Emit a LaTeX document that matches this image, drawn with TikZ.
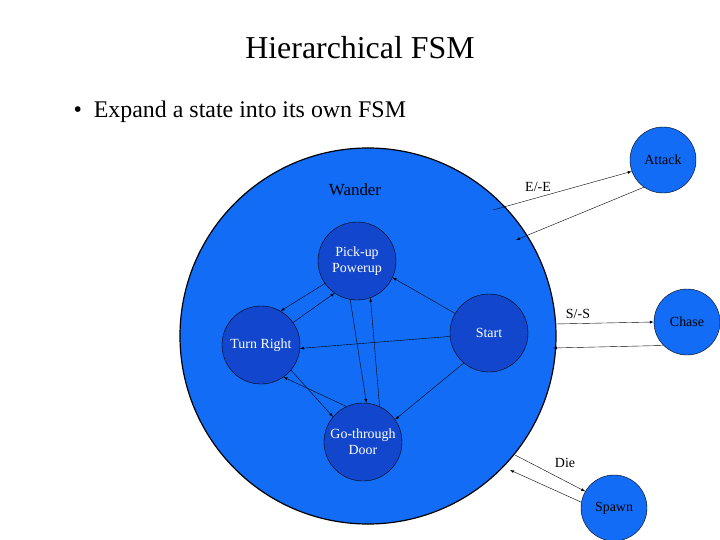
\documentclass[tikz,border=0pt]{standalone}
\usepackage{fontspec}
\setmainfont{Liberation Serif}
\usetikzlibrary{arrows}
\definecolor{wanderblue}{RGB}{18,108,245}
\definecolor{innerblue}{RGB}{18,70,205}
\tikzset{
  outer/.style={circle, draw=black, fill=wanderblue, minimum size=66bp, inner sep=0pt, font=\fontsize{14}{14}\selectfont, align=center},
  inner/.style={circle, draw=black, fill=innerblue, minimum size=78bp, inner sep=0pt, text=white, font=\fontsize{14}{16}\selectfont, align=center},
  trans/.style={-latex, thin}
}
\begin{document}
\begin{tikzpicture}[x=1bp,y=-1bp]
\useasboundingbox (0,0) rectangle (720,540);
\node[font=\fontsize{32}{32}\selectfont] (title) at (360,48) {Hierarchical FSM};
\node[font=\fontsize{24}{24}\selectfont, anchor=west] (bullet) at (70,112) {\textbullet\ \ Expand a state into its own FSM};

\node[circle, draw=black, line width=1.2pt, fill=wanderblue, minimum size=376bp, inner sep=0pt] (wander) at (368,336) {};
\node[font=\fontsize{17}{17}\selectfont] (wlabel) at (355,190) {Wander};

\node[outer] (attack) at (663,160) {Attack};
\node[outer] (chase) at (687,322) {Chase};
\node[outer] (spawn) at (614,508) {Spawn};

\node[inner] (pickup) at (357,261) {Pick-up\\Powerup};
\node[inner] (turn) at (261,345) {Turn Right};
\node[inner] (start) at (489,333) {Start};
\node[inner] (door) at (363,442) {Go-through\\Door};

% inner transitions
\draw[trans] (start.150) -- (pickup.-25);
\draw[trans] (start.185) -- (turn.-5);
\draw[trans] (start.-130) -- (door.35);
\draw[trans] (pickup.-145) -- (turn.60);
\draw[trans] (turn.35) -- (pickup.-125);
\draw[trans] (pickup.-100) -- (door.85);
\draw[trans] (door.65) -- (pickup.-70);
\draw[trans] (turn.-40) -- (door.140);
\draw[trans] (door.115) -- (turn.-55);

% outer transitions
\coordinate (eout) at (493,210);
\coordinate (ein) at (516,240);
\coordinate (sout) at (555,324);
\coordinate (sin) at (553,348);
\coordinate (dout) at (515,455);
\coordinate (din) at (510,470);
\draw[trans] (eout) -- (attack.-160);
\draw[trans] (attack.-125) -- (ein);
\draw[trans] (sout) -- (chase.180);
\draw[trans] (chase.-135) -- (sin);
\draw[trans] (dout) -- (spawn.150);
\draw[trans] (spawn.170) -- (din);
\node[font=\fontsize{14}{14}\selectfont] (elabel) at (538,187) {E/-E};
\node[font=\fontsize{14}{14}\selectfont] (slabel) at (578,314) {S/-S};
\node[font=\fontsize{14}{14}\selectfont] (dlabel) at (565,463) {Die};
\end{tikzpicture}
\end{document}
